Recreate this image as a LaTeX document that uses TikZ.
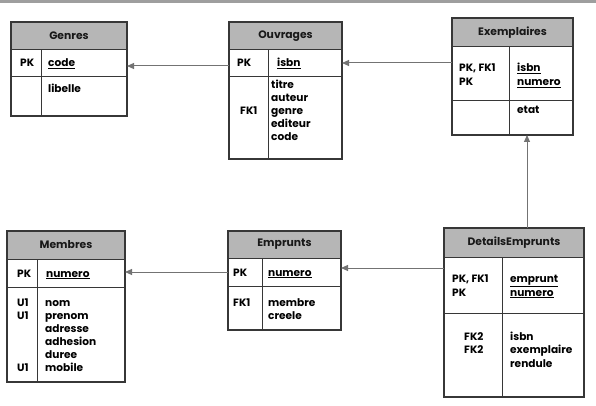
\documentclass[tikz,border=0pt]{standalone}
\usepackage{fontspec}
\setmainfont{Poppins}[BoldFont={* Bold}]
\usetikzlibrary{arrows.meta}
\definecolor{hdrgray}{RGB}{182,182,182}
\definecolor{boxline}{RGB}{55,55,55}
\definecolor{fkline}{RGB}{115,115,115}
\tikzset{
  tblbox/.style={draw=boxline, line width=1.1pt, inner sep=0pt, outer sep=0pt, fill=none},
  tblline/.style={draw=boxline, line width=1pt},
  hdrfill/.style={fill=hdrgray},
  ttl/.style={font=\bfseries\fontsize{10.8}{12}\selectfont, inner sep=0pt, text=black!90},
  txt/.style={font=\bfseries\fontsize{10.6}{12}\selectfont, inner sep=0pt, anchor=base west, text=black},
  fk/.style={draw=fkline, line width=1pt, -{Triangle[length=7pt,width=6pt,fill=fkline]}}
}
\newcommand\ertab[9]{%
  \fill[hdrfill] (#2,#3) rectangle (#4,#6);
  \draw[tblline] (#2,#6) -- (#4,#6);
  \draw[tblline] (#2,#7) -- (#4,#7);
  \draw[tblline] (#8,#6) -- (#8,#5);
  \node[tblbox, anchor=north west, minimum width=#4pt-#2pt, minimum height=#5pt-#3pt] (#1) at (#2,#3) {};
  \node[ttl] (#1-title) at ({(#2+#4)/2},{(#3+#6)/2}) {#9};
}
\begin{document}
\begin{tikzpicture}[x=1pt,y=-1pt]
\useasboundingbox (0,0) rectangle (596,406);
\fill[black!38] (0,0) rectangle (596,2.6);
% Genres
\ertab{genres}{11}{22}{127}{116}{50}{77}{41}{Genres}
\node[txt] (genres-k1) at (20,67) {PK};
\node[txt] (genres-f1) at (48,67) {\underline{code}};
\node[txt] (genres-f2) at (48,93) {libelle};
% Ouvrages
\ertab{ouvrages}{229}{22}{342}{159}{50}{77}{268}{Ouvrages}
\node[txt] (ouv-k1) at (237,67) {PK};
\node[txt] (ouv-f1) at (277,67) {\underline{isbn}};
\node[txt] (ouv-k2) at (240,115) {FK1};
\foreach \t [count=\i from 0] in {titre,auteur,genre,editeur,code}
  \node[txt] (ouv-a\i) at (271,89+\i*13) {\t};
% Exemplaires
\ertab{exemplaires}{452}{18}{573}{135}{47}{101}{509}{Exemplaires}
\node[txt] (ex-k1) at (459,72) {PK, FK1};
\node[txt] (ex-k2) at (459,86) {PK};
\node[txt] (ex-f1) at (517,72) {\underline{isbn}};
\node[txt] (ex-f2) at (517,86) {\underline{numero}};
\node[txt] (ex-f3) at (517,114) {etat};
% Membres
\ertab{membres}{7}{231}{125}{382}{259}{287}{37}{Membres}
\node[txt] (mem-k1) at (17,277) {PK};
\node[txt] (mem-f1) at (46,277) {\underline{numero}};
\node[txt] (mem-u1) at (17,306) {U1};
\node[txt] (mem-u2) at (17,319) {U1};
\node[txt] (mem-u3) at (17,371) {U1};
\foreach \t [count=\i from 0] in {nom,prenom,adresse,adhesion,duree,mobile}
  \node[txt] (mem-a\i) at (45,306+\i*13) {\t};
% Emprunts
\ertab{emprunts}{228}{231}{341}{330}{258}{286}{262}{Emprunts}
\node[txt] (emp-k1) at (233,276) {PK};
\node[txt] (emp-f1) at (268,276) {\underline{numero}};
\node[txt] (emp-k2) at (233,306) {FK1};
\node[txt] (emp-f2) at (268,306) {membre};
\node[txt] (emp-f3) at (268,319) {creele};
% DetailsEmprunts
\ertab{details}{444}{228}{584}{397}{257}{313}{502}{DetailsEmprunts}
\node[txt] (det-k1) at (452,282) {PK, FK1};
\node[txt] (det-k2) at (452,296) {PK};
\node[txt] (det-f1) at (510,282) {\underline{emprunt}};
\node[txt] (det-f2) at (510,296) {\underline{numero}};
\node[txt] (det-k3) at (464,340) {FK2};
\node[txt] (det-k4) at (464,353.5) {FK2};
\node[txt] (det-f3) at (510,340) {isbn};
\node[txt] (det-f4) at (510,353.5) {exemplaire};
\node[txt] (det-f5) at (510,367) {rendule};
% connectors
\draw[fk] (ouvrages.west |- 0,66) -- (genres.east |- 0,66);
\draw[fk] (exemplaires.west |- 0,63) -- (ouvrages.east |- 0,63);
\draw[fk] (details.north -| 527,0) -- (exemplaires.south -| 527,0);
\draw[fk] (details.west |- 0,268) -- (emprunts.east |- 0,268);
\draw[fk] (emprunts.west |- 0,272) -- (membres.east |- 0,272);
\end{tikzpicture}
\end{document}
